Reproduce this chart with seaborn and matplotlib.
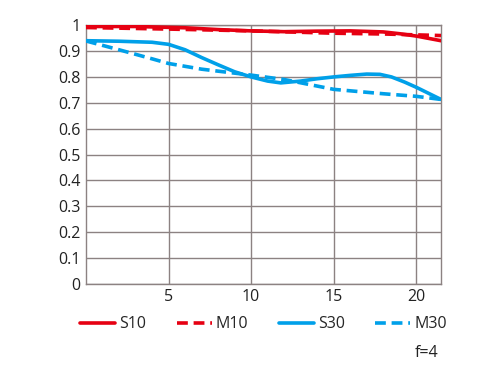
import seaborn as sns
import matplotlib.pyplot as plt
import pandas as pd

# MTF curves (image height in mm vs. contrast)
s10_x = [0, 3, 6, 8, 10, 12, 14, 16, 18, 19, 20, 21.5]
s10_y = [0.995, 0.995, 0.99, 0.983, 0.978, 0.975, 0.977, 0.978, 0.974, 0.967, 0.958, 0.94]
m10_x = [0, 5, 10, 15, 18, 21.5]
m10_y = [0.991, 0.985, 0.978, 0.969, 0.966, 0.96]
s30_x = [0, 2, 4, 5, 6, 7, 8, 9, 10, 11, 11.8, 13, 14, 15, 16, 17, 17.8, 18.5, 19.3, 20, 20.8, 21.5]
s30_y = [0.94, 0.938, 0.934, 0.926, 0.905, 0.875, 0.847, 0.82, 0.80, 0.784, 0.777, 0.784, 0.793, 0.80, 0.806, 0.811, 0.81, 0.80, 0.78, 0.76, 0.735, 0.713]
m30_x = [0, 2, 4, 5, 7, 10, 12, 15, 18, 20, 21.5]
m30_y = [0.939, 0.905, 0.87, 0.852, 0.83, 0.807, 0.79, 0.752, 0.735, 0.725, 0.713]

frames = []
for name, xs, ys in [('S10', s10_x, s10_y), ('M10', m10_x, m10_y),
                     ('S30', s30_x, s30_y), ('M30', m30_x, m30_y)]:
    frames.append(pd.DataFrame({'height': xs, 'mtf': ys, 'series': name}))
df = pd.concat(frames, ignore_index=True)

sns.set_style('white')
plt.rcParams['font.family'] = ['Open Sans', 'DejaVu Sans']

red = '#e60012'
blue = '#00a0e9'
grid_c = '#8c8282'

fig = plt.figure(figsize=(5, 3.76), dpi=100)
ax = fig.add_axes([0.172, 0.245, 0.71, 0.688])

sns.lineplot(data=df, x='height', y='mtf', hue='series', style='series',
             palette={'S10': red, 'M10': red, 'S30': blue, 'M30': blue},
             dashes={'S10': '', 'M10': (3, 1.6), 'S30': '', 'M30': (3, 1.6)},
             linewidth=2.6, sort=False, estimator=None, ax=ax, zorder=3)

ax.set_xlim(0, 21.5)
ax.set_ylim(0, 1)
ax.set_xticks([5, 10, 15, 20])
ax.set_yticks([i / 10 for i in range(11)])
ax.set_yticklabels(['0', '0.1', '0.2', '0.3', '0.4', '0.5', '0.6', '0.7', '0.8', '0.9', '1'])
ax.grid(True, color=grid_c, linewidth=1)
for sp in ax.spines.values():
    sp.set_color(grid_c)
    sp.set_linewidth(1)
ax.tick_params(length=0, labelsize=11.5, pad=4, colors='#222222')
ax.set_xlabel('')
ax.set_ylabel('')

ax.legend(loc='upper center', bbox_to_anchor=(0.5, -0.1), ncol=4, frameon=False,
          fontsize=11.5, handlelength=2.2, handletextpad=0.25, columnspacing=1.9,
          borderaxespad=0)

fig.text(0.83, 0.05, 'f=4', fontsize=11.5, color='#222222')

plt.savefig('out.png', dpi=100)
